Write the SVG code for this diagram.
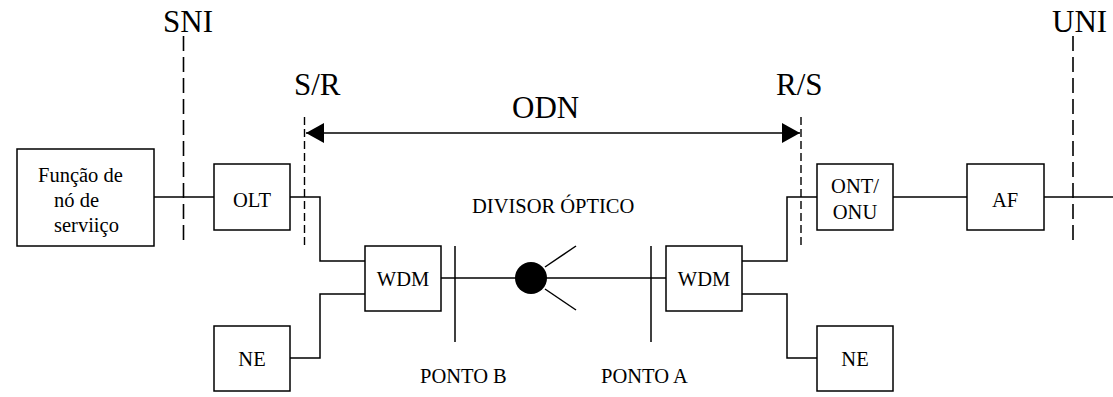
<svg xmlns="http://www.w3.org/2000/svg" width="1113" height="397" viewBox="0 0 1113 397">
<style>
.box{fill:#fff;stroke:#000;stroke-width:1.5}
.ln{fill:none;stroke:#000;stroke-width:1.5}
.dl{fill:none;stroke:#000;stroke-width:1.6;stroke-dasharray:15 6}
.ds{fill:none;stroke:#000;stroke-width:1.4;stroke-dasharray:8 4}
text{font-family:'Liberation Serif','Times New Roman',Times,'DejaVu Serif',serif;fill:#000}
.big{font-size:31px}
.t{font-size:20.5px}
.c{text-anchor:middle}
</style>
<defs>
<marker id="ah" viewBox="0 0 18 20" refX="18" refY="10" markerWidth="18" markerHeight="20" markerUnits="userSpaceOnUse" orient="auto-start-reverse">
<path d="M0,0 L18,10 L0,20 Z" fill="#000"/>
</marker>
</defs>
<g id="connectors">
<line class="ln" x1="154" y1="197" x2="214" y2="197"/>
<polyline class="ln" points="290,197 320,197 320,261 365,261"/>
<polyline class="ln" points="365,294 320,294 320,358 290,358"/>
<line class="ln" x1="441" y1="278" x2="666" y2="278"/>
<line class="ln" x1="545" y1="267" x2="576" y2="246"/>
<line class="ln" x1="545" y1="289" x2="576" y2="310"/>
<polyline class="ln" points="742,261 787,261 787,197 817,197"/>
<polyline class="ln" points="742,294 787,294 787,358 817,358"/>
<line class="ln" x1="893" y1="197" x2="967" y2="197"/>
<line class="ln" x1="1044" y1="197" x2="1113" y2="197"/>
<line class="ln" x1="306" y1="133" x2="800" y2="133" marker-start="url(#ah)" marker-end="url(#ah)"/>
</g>
<g id="interfaces">
<line class="dl" x1="183.5" y1="36" x2="183.5" y2="246"/>
<line class="dl" x1="1073" y1="36" x2="1073" y2="246"/>
<line class="ds" x1="304.5" y1="117" x2="304.5" y2="246"/>
<line class="ds" x1="801" y1="117" x2="801" y2="246"/>
<text class="big" x="163" y="32" font-family="Liberation Serif">SNI</text>
<text class="big" x="1052" y="32" font-family="Liberation Serif">UNI</text>
<text class="big" x="294" y="95" font-family="Liberation Serif">S/R</text>
<text class="big" x="776" y="95" font-family="Liberation Serif">R/S</text>
<text class="big" x="512" y="118" font-family="Liberation Serif">ODN</text>
</g>
<g id="func">
<rect class="box" x="17" y="149" width="137" height="97"/>
<text class="t" x="38" y="182">Função de</text>
<text class="t" x="54" y="207">nó de</text>
<text class="t" x="54" y="232">serviiço</text>
</g>
<g id="olt">
<rect class="box" x="214" y="164" width="76" height="66"/>
<text class="t c" x="252" y="207">OLT</text>
</g>
<g id="ne1">
<rect class="box" x="214" y="326" width="76" height="65"/>
<text class="t c" x="252" y="366">NE</text>
</g>
<g id="wdm1">
<rect class="box" x="365" y="246" width="76" height="65"/>
<text class="t c" x="403" y="286">WDM</text>
</g>
<g id="pontoB">
<line class="ln" x1="455" y1="246" x2="455" y2="342"/>
<text class="t" x="420" y="383">PONTO B</text>
</g>
<g id="divisor">
<circle cx="531" cy="278" r="16" fill="#000"/>
<text class="t" x="472" y="213">DIVISOR ÓPTICO</text>
</g>
<g id="pontoA">
<line class="ln" x1="651" y1="246" x2="651" y2="342"/>
<text class="t" x="601" y="383">PONTO A</text>
</g>
<g id="wdm2">
<rect class="box" x="666" y="246" width="76" height="65"/>
<text class="t c" x="704" y="286">WDM</text>
</g>
<g id="ont">
<rect class="box" x="817" y="164" width="76" height="66"/>
<text class="t c" x="855" y="193">ONT/</text>
<text class="t c" x="855" y="219">ONU</text>
</g>
<g id="af">
<rect class="box" x="967" y="164" width="77" height="66"/>
<text class="t c" x="1005" y="207">AF</text>
</g>
<g id="ne2">
<rect class="box" x="817" y="326" width="76" height="65"/>
<text class="t c" x="855" y="366">NE</text>
</g>
</svg>
